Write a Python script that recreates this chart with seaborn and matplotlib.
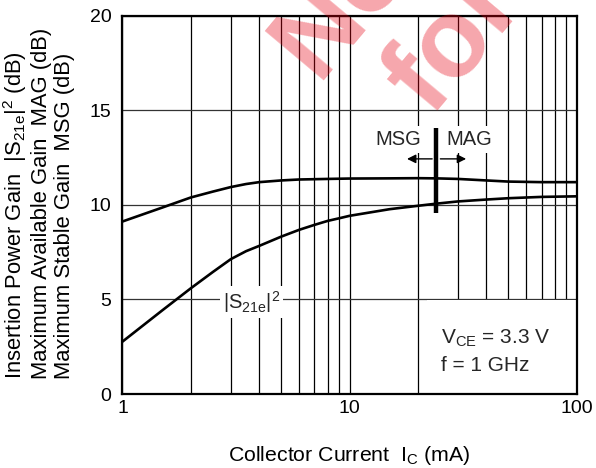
import matplotlib
matplotlib.use("Agg")
import matplotlib.pyplot as plt
from matplotlib.patches import Rectangle
from matplotlib.ticker import NullFormatter, FixedLocator, LogLocator
import seaborn as sns

# Collector current Ic (mA) and gain (dB)
ic_gain_max = [1, 1.5, 2, 2.5, 3, 3.5, 4, 5, 6, 8, 10, 15, 20, 24, 30, 40, 50, 70, 100]
gain_max = [9.12, 9.86, 10.39, 10.7, 10.94, 11.1, 11.2, 11.29, 11.34, 11.37, 11.39,
            11.4, 11.41, 11.4, 11.37, 11.29, 11.23, 11.2, 11.2]

ic_s21 = [1, 1.5, 2, 2.5, 3, 3.5, 4, 5, 6, 7, 8, 9, 10, 15, 20, 24, 30, 40, 50, 70, 100]
gain_s21 = [2.77, 4.43, 5.59, 6.45, 7.13, 7.55, 7.83, 8.32, 8.68, 8.94, 9.15, 9.29,
            9.42, 9.77, 9.95, 10.06, 10.18, 10.28, 10.35, 10.42, 10.45]

# MSG / MAG boundary marker
boundary_ic = 24
boundary_gain = [9.55, 14.05]

x_ticks = [1, 10, 100]
x_ticklabels = ["1", "10", "100"]
y_ticks = [0, 5, 10, 15, 20]
y_ticklabels = ["0", "5", "10", "15", "20"]

sns.set_theme(style="white")
plt.rcParams["font.family"] = ["Liberation Sans", "DejaVu Sans"]
plt.rcParams["mathtext.fontset"] = "custom"
plt.rcParams["mathtext.rm"] = "Liberation Sans"
plt.rcParams["mathtext.it"] = "Liberation Sans:italic"
plt.rcParams["mathtext.bf"] = "Liberation Sans:bold"
plt.rcParams["mathtext.default"] = "regular"

fig = plt.figure(figsize=(5.96, 4.68), dpi=100)
ax = fig.add_axes([0.2055, 0.1581, 0.7621, 0.8084])
ax.set_xscale("log")
ax.set_xlim(1, 100)
ax.set_ylim(0, 20)

# grid
ax.xaxis.set_major_locator(FixedLocator(x_ticks))
ax.xaxis.set_minor_locator(LogLocator(base=10, subs=range(2, 10)))
ax.xaxis.set_minor_formatter(NullFormatter())
ax.set_xticks(x_ticks, x_ticklabels)
ax.set_yticks(y_ticks, y_ticklabels)
ax.grid(True, which="both", axis="x", color="black", lw=0.9)
ax.grid(True, which="major", axis="y", color="#333333", lw=0.9)
ax.tick_params(axis="both", which="both", length=0, labelsize=14, colors="black")
ax.tick_params(axis="x", pad=4)
ax.tick_params(axis="y", pad=8)

for s in ax.spines.values():
    s.set_color("black")
    s.set_linewidth(1.6)
    s.set_zorder(4)

# curves
sns.lineplot(x=ic_gain_max, y=gain_max, ax=ax, color="black", lw=1.9, zorder=3)
sns.lineplot(x=ic_s21, y=gain_s21, ax=ax, color="black", lw=1.9, zorder=3)

ax.vlines(boundary_ic, boundary_gain[0], boundary_gain[1], color="black", lw=3.2, zorder=3)

# MSG / MAG labels and arrows
ax.text(16.4, 13.44, "MSG", ha="center", va="center", fontsize=14.5, zorder=2.8,
        bbox=dict(fc="white", ec="none", pad=3))
ax.text(33.7, 13.44, "MAG", ha="center", va="center", fontsize=14.5, zorder=2.8,
        bbox=dict(fc="white", ec="none", pad=3))
arrow = dict(arrowstyle="-|>", color="black", lw=1.0, mutation_scale=13, shrinkA=0, shrinkB=0)
ax.annotate("", xy=(17.9, 12.43), xytext=(23.1, 12.43), arrowprops=arrow, zorder=3)
ax.annotate("", xy=(32.6, 12.43), xytext=(25.1, 12.43), arrowprops=arrow, zorder=3)

# |S21e|^2 curve label
ax.text(3.7, 4.85, r"|S$_{21e}$|$^{2}$", ha="center", va="center", fontsize=14.5,
        zorder=2.8, bbox=dict(fc="white", ec="none", pad=2))

# conditions box
ax.add_patch(Rectangle((22, 0.05), 78, 4.9, fc="white", ec="none", zorder=1))
ax.text(25.3, 2.95, r"V$_{CE}$ = 3.3 V", ha="left", va="center", fontsize=15, zorder=3)
ax.text(25.3, 1.53, "f = 1 GHz", ha="left", va="center", fontsize=15, zorder=3)

# axis labels
ax.set_xlabel(r"Collector Current  I$_{C}$ (mA)", fontsize=15.3, color="black")
ax.xaxis.set_label_coords(0.5, -0.131)
ax.set_ylabel("Insertion Power Gain  |S$_{21e}$|$^{2}$ (dB)\n"
              "Maximum Available Gain  MAG (dB)\n"
              "Maximum Stable Gain  MSG (dB)",
              fontsize=15.8, color="black", multialignment="left", linespacing=1.12)
ax.yaxis.set_label_coords(-0.104, 0.505)

# watermark
wm = dict(rotation=50, rotation_mode="anchor", ha="left", va="baseline",
          fontsize=80, fontweight="bold", color=(0.9, 0.0, 0.07), alpha=0.35, zorder=10)
fig.text(317 / 596, 1 - 80 / 468, "Not", **wm)
fig.text(430 / 596, 1 - 117 / 468, "for", **wm)

fig.savefig("out.png", dpi=100)
